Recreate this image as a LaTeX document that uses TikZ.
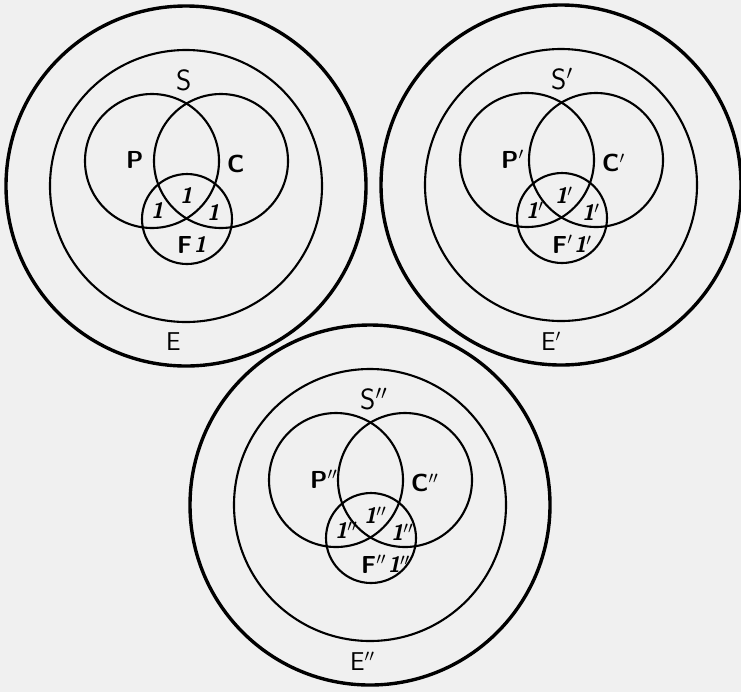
\documentclass[tikz,border=0pt]{standalone}
\usepackage{fontspec}
\usetikzlibrary{positioning}

\definecolor{fundo}{RGB}{240,240,240}

\begin{document}
\begin{tikzpicture}[x=0.03cm, y=-0.03cm,
    anel/.style={line width=2.9pt},
    circ/.style={line width=1.8pt},
    lbl/.style={inner sep=0pt, anchor=west, font=\sffamily\fontsize{22}{22}\selectfont},
    letra/.style={lbl, font=\sffamily\bfseries\fontsize{21}{21}\selectfont},
    um/.style={inner sep=0pt, anchor=west, font=\sffamily\bfseries\slshape\fontsize{19}{19}\selectfont}]
    % fundo e margens
    \fill[fundo] (0, 0) rectangle (741, 692);
    \useasboundingbox (0, 0) rectangle (741, 692);

    \foreach \cx/\cy/\pr/\g in {186/186/{}/a, 561/185/{'}/b, 370/505/{''}/c}{
    \begin{scope}[shift={(\cx, \cy)}]
        % E e S
        \draw[anel] (0, 0) circle (180);
        \draw[circ] (0, 0) circle (136);
        % P, C e F
        \draw[circ] (-34, -25) circle (67);
        \draw[circ] (35, -25) circle (67);
        \draw[circ] (1, 33) circle (45);

        \node[lbl, font=\sffamily\fontsize{25}{25}\selectfont] (S\g) at (-10, -106) {S\ensuremath{\pr}};
        \node[letra] (P\g) at (-60, -26) {P\ensuremath{\pr}};
        \node[letra] (C\g) at (41, -22) {C\ensuremath{\pr}};
        \node[lbl] (E\g) at (-20, 156) {E\ensuremath{\pr}};

        \node[um] (um\g) at (-6, 10) {1\ensuremath{\pr}};
        \node[um] (umP\g) at (-35, 25) {1\ensuremath{\pr}};
        \node[um] (umC\g) at (21, 27) {1\ensuremath{\pr}};
        \node[letra] (F\g) at (-9, 59) {F\ensuremath{\pr}};
        \node[um, right=1pt of F\g] (umF\g) {1\ensuremath{\pr}};
    \end{scope}
    }

\end{tikzpicture}
\end{document}
